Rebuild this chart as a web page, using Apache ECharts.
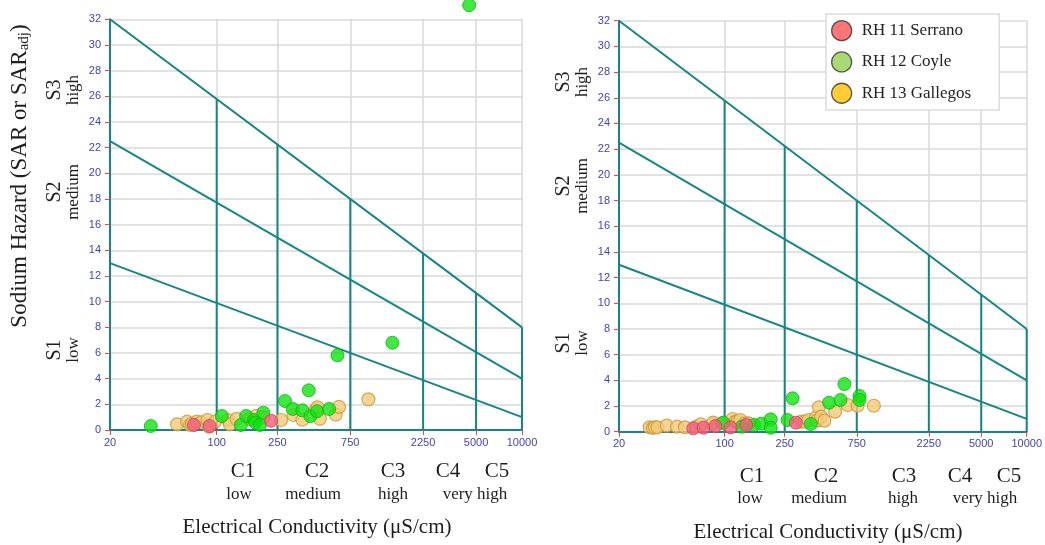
<!DOCTYPE html>
<html><head><meta charset="utf-8">
<script src="https://cdn.jsdelivr.net/npm/echarts@6/dist/echarts.min.js"></script>
<style>html,body{margin:0;padding:0;background:#fff}#c{width:1045px;height:545px}</style>
</head><body><div id="c"></div>
<script>
// ---- data ----
const xTickValues = [20, 100, 250, 750, 2250, 5000, 10000];
const ecClassBounds = [100, 250, 750, 2250, 5000, 10000];
const ecMin = 20, ecMax = 10000;
const sarBoundAtMin = [13, 22.5, 32];
const sarBoundAtMax = [1, 4, 8];
const seriesNames = ['RH 11 Serrano', 'RH 12 Coyle', 'RH 13 Gallegos'];

const serranoLeft = [[71,0.39],[90,0.31],[227,0.72]];
const coyleLeft = [[37,0.31],[108,1.09],[144,0.39],[156,1.09],[176,0.78],[179,0.57],[192,0.39],[202,1.35],
  [280,2.26],[315,1.64],[364,1.53],[401,3.09],[411,1.07],[455,1.46],[545,1.64],[618,5.82],[1416,6.8],[4508,33.1]];
const gallegosLeft = [[55,0.44],[64,0.65],[67,0.39],[69,0.47],[74,0.65],[79,0.6],[87,0.78],[89,0.26],[97.5,0.65],
  [119,0.78],[122,0.44],[135,0.86],[165,0.86],[181,1.09],[202,0.99],[264,0.78],[318,1.17],[364,0.8],[445,1.56],
  [457,1.77],[474,0.87],[602,1.2],[633,1.8],[986,2.39]];

const serranoRight = [[62,0.26],[72.5,0.31],[87,0.44],[109.5,0.34],[139,0.52],[296,0.7]];
const coyleRight = [[98,0.7],[130,0.39],[157,0.52],[175,0.62],[202,0.96],[202,0.31],[261,0.91],[282,2.6],
  [372,0.6],[492,2.26],[585,2.47],[621,3.71],[782,2.78],[782,2.47]];
const gallegosRight = [[31.9,0.34],[33.5,0.3],[34.5,0.34],[36,0.34],[41.4,0.47],[48.4,0.39],[54.6,0.34],[65,0.39],
  [69.6,0.57],[83,0.6],[84,0.7],[96,0.65],[113,0.99],[118,0.78],[121,0.78],[127,0.91],[137,0.65],[144,0.65],
  [322,0.78],[339,0.78],[360,0.91],[404,1.12],[410,0.86],[421,1.9],[436,1.17],[458,0.86],[539,1.56],
  [653,2.08],[759,2.02],[973,2.02]];

// ---- styling ----
const TEAL = '#178585';
const GRIDC = '#d9d9d9';
const TICKC = '#ff3b3b';
const LABC = '#4242b8';
const SERIF = 'Liberation Serif';
const pointStyle = [
  {color:'#f35d7d', borderColor:'#cf3f62', borderWidth:1},
  {color:'#12e212', borderColor:'#12b312', borderWidth:1},
  {color:'#f2c979', borderColor:'#c69a38', borderWidth:1.2}
];
const legendStyle = [
  {color:'#ff5252', borderColor:'#333', borderWidth:1.3},
  {color:'#92d050', borderColor:'#333', borderWidth:1.3},
  {color:'#ffc000', borderColor:'#333', borderWidth:1.3}
];

const lg = Math.log10;
function boundAt(i, ec) {
  const t = (lg(ec) - lg(ecMin)) / (lg(ecMax) - lg(ecMin));
  return sarBoundAtMin[i] + (sarBoundAtMax[i] - sarBoundAtMin[i]) * t;
}

const grids = [
  {left:110, top:19.3, width:412, height:410.7},
  {left:619, top:20.7, width:412, height:411}
];
const xAxes = [], yAxes = [], series = [];
grids.forEach((g, gi) => {
  xAxes.push({
    type:'log', logBase:10, min:ecMin, max:ecMax, gridIndex:gi,
    axisLine:{show:true, lineStyle:{color:TEAL, width:2}},
    axisTick:{show:true, customValues:xTickValues, length:5, lineStyle:{color:TICKC, width:1}},
    axisLabel:{customValues:xTickValues, color:LABC, fontSize:11, fontFamily:'Liberation Sans', margin:7,
      formatter:v => String(Math.round(v))},
    splitLine:{show:true, lineStyle:{color:GRIDC, width:1.5}},
    minorTick:{show:false}, minorSplitLine:{show:false}
  });
  yAxes.push({
    type:'value', min:0, max:32, interval:2, gridIndex:gi,
    axisLine:{show:true, lineStyle:{color:TEAL, width:2}},
    axisTick:{show:true, length:5, lineStyle:{color:TICKC, width:1}},
    axisLabel:{color:LABC, fontSize:11, fontFamily:'Liberation Sans', margin:9},
    splitLine:{show:true, lineStyle:{color:GRIDC, width:1.5}}
  });
  // class boundary lines
  sarBoundAtMin.forEach((v, i) => {
    series.push({type:'line', xAxisIndex:gi, yAxisIndex:gi, symbol:'none', silent:true, z:2,
      lineStyle:{color:TEAL, width:2}, data:[[ecMin, v],[ecMax, sarBoundAtMax[i]]]});
  });
  ecClassBounds.forEach(ec => {
    series.push({type:'line', xAxisIndex:gi, yAxisIndex:gi, symbol:'none', silent:true, z:2,
      lineStyle:{color:TEAL, width:2}, data:[[ec, 0],[ec, boundAt(2, ec)]]});
  });
});
const panelData = [[serranoLeft, coyleLeft, gallegosLeft],[serranoRight, coyleRight, gallegosRight]];
panelData.forEach((sets, gi) => {
  [2, 1, 0].forEach(k => {
    series.push({type:'scatter', name:seriesNames[k], xAxisIndex:gi, yAxisIndex:gi, symbolSize:13,
      clip:false, z:3 + (2 - k), itemStyle:pointStyle[k], data:sets[k]});
  });
});

// ---- text labels ----
function txt(x, y, text, size, rot) {
  return {type:'text', x, y, rotation: rot ? Math.PI/2 : 0, z:10,
    style:{text, fontFamily:SERIF, fontSize:size, fill:'#1e1e1e', align:'center', verticalAlign:'middle'}};
}
const graphic = [];
// y title (left panel only)
graphic.push({type:'text', x:20, y:176, rotation:Math.PI/2, z:10,
  style:{text:'{a|Sodium Hazard (SAR or SAR}{s|adj}{a|)}', align:'center', verticalAlign:'middle',
    rich:{a:{fontFamily:SERIF, fontSize:23, lineHeight:24, verticalAlign:'top', fill:'#1e1e1e'},
          s:{fontFamily:SERIF, fontSize:15, lineHeight:15, padding:[12,0,0,0], verticalAlign:'bottom', fill:'#1e1e1e'}}}});
const sLabels = [
  {dx:0, items:[['S3','high',90],['S2','medium',192],['S1','low',350]]},
  {dx:509, items:[['S3','high',82],['S2','medium',186],['S1','low',343]]}
];
sLabels.forEach(p => p.items.forEach(it => {
  graphic.push(txt(55 + p.dx, it[2], it[0], 20, true));
  graphic.push(txt(74 + p.dx, it[2], it[1], 17, true));
}));
const cLabelsLeft = [['C1',243],['C2',317],['C3',393],['C4',448],['C5',497]];
const cSubLeft = [['low',239],['medium',313],['high',393],['very high',475]];
const cLabelsRight = [['C1',752],['C2',826],['C3',904],['C4',960],['C5',1009]];
const cSubRight = [['low',750],['medium',819],['high',903],['very high',985]];
cLabelsLeft.forEach(c => graphic.push(txt(c[1], 471, c[0], 21)));
cSubLeft.forEach(c => graphic.push(txt(c[1], 495, c[0], 17)));
cLabelsRight.forEach(c => graphic.push(txt(c[1], 476, c[0], 21)));
cSubRight.forEach(c => graphic.push(txt(c[1], 499, c[0], 17)));
graphic.push(txt(317, 527, 'Electrical Conductivity (μS/cm)', 21));
graphic.push(txt(828, 532, 'Electrical Conductivity (μS/cm)', 21));

const chart = echarts.init(document.getElementById('c'), null, {renderer:'canvas'});
chart.setOption({
  animation:false,
  backgroundColor:'#fff',
  grid:grids,
  xAxis:xAxes,
  yAxis:yAxes,
  legend:{orient:'vertical', left:826, top:14, backgroundColor:'#fff', borderColor:'#dcdcdc', borderWidth:1.5,
    padding:[6,28,6,5], itemGap:10, itemWidth:30, itemHeight:20, icon:'circle', selectedMode:false,
    textStyle:{fontFamily:SERIF, fontSize:17, color:'#222'},
    data:seriesNames.map((n, i) => ({name:n, itemStyle:legendStyle[i]}))},
  graphic,
  series
});
</script></body></html>
